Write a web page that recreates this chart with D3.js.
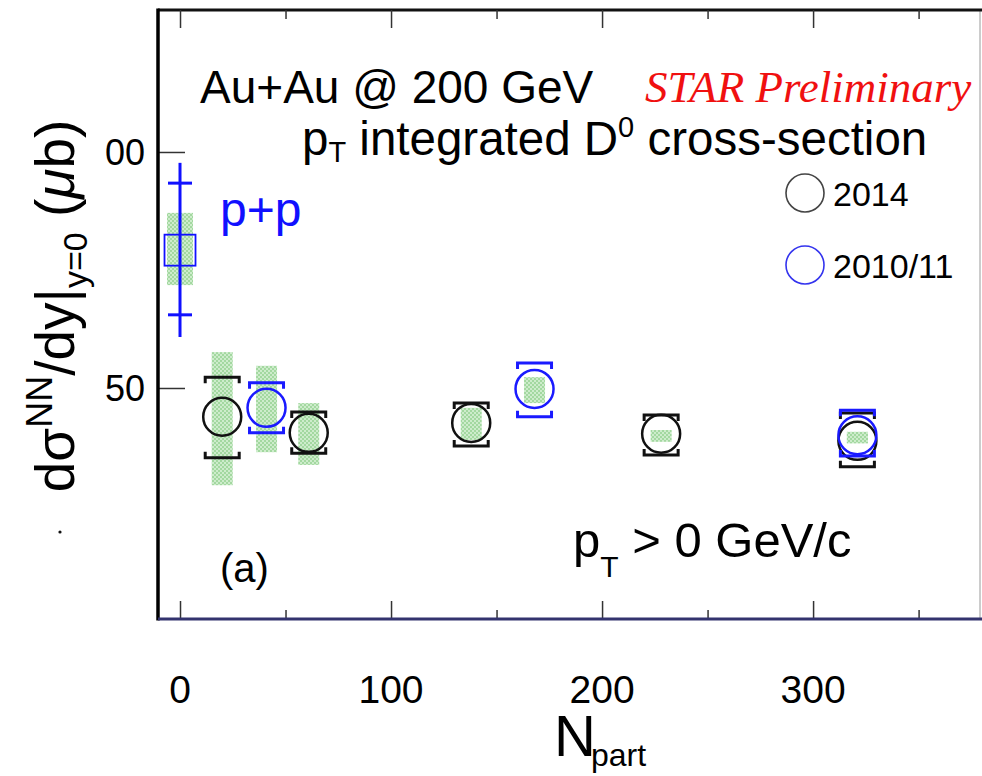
<!DOCTYPE html>
<html>
<head>
<meta charset="utf-8">
<script src="https://cdn.jsdelivr.net/npm/d3@7"></script>
<style>
body { margin: 0; background: #fff; }
text { font-family: "Liberation Sans", Arial, sans-serif; }
</style>
</head>
<body>
<div id="chart"></div>
<script>

// ---- data ----
var xTicks = [0, 100, 200, 300];
var xMinor = [50, 150, 250, 350];
var yTicks = [50, 100];

// p+p reference point
var ppNpart = 0, ppValue = 79.2;
var ppStat = [65.5, 93.4];     // caps
var ppTotal = [60.8, 97.7];    // line ends
var ppSys = [71.8, 87.1];      // green band

// Au+Au 2014 (black)
var npart2014 = [20, 61, 138, 228, 321];
var value2014 = [43.9, 40.5, 42.6, 40.3, 38.8];
var statLo2014 = [35.2, 36.2, 37.7, 35.8, 33.3];
var statHi2014 = [52.3, 44.9, 46.8, 44.3, 44.7];
var sysLo2014 = [29.4, 33.7, 39.0, 38.6, 38.3];
var sysHi2014 = [57.6, 46.8, 45.8, 41.1, 40.7];

// Au+Au 2010/11 (blue)
var npart1011 = [41, 168, 321];
var value1011 = [45.8, 49.8, 40.0];
var statLo1011 = [40.5, 43.9, 35.6];
var statHi1011 = [51.1, 55.3, 45.3];
var sysLo1011 = [36.4, 46.8, 38.3];
var sysHi1011 = [54.7, 52.3, 40.7];

var W = 982, H = 776;
var frame = { left: 158, right: 980, top: 10, bottom: 619 };

var svg = d3.select("#chart").append("svg").attr("width", W).attr("height", H);

var x = d3.scaleLinear().domain([-10.43, 379.1]).range([frame.left, frame.right]);
var y = d3.scaleLinear().domain([1.06, 130.08]).range([frame.bottom, frame.top]);

// hatched green pattern for systematics
var defs = svg.append("defs");
var pat = defs.append("pattern").attr("id", "sysPat").attr("patternUnits", "userSpaceOnUse")
    .attr("width", 4).attr("height", 4);
pat.append("rect").attr("width", 4).attr("height", 4).attr("fill", "#cdeccb");
pat.append("rect").attr("width", 2).attr("height", 2).attr("fill", "#a3d8a0");
pat.append("rect").attr("x", 2).attr("y", 2).attr("width", 2).attr("height", 2).attr("fill", "#a3d8a0");

defs.append("clipPath").attr("id", "labClip")
    .append("rect").attr("x", 105).attr("y", 0).attr("width", 60).attr("height", H);

// frame
svg.append("line").attr("x1", frame.right).attr("x2", frame.right).attr("y1", frame.top).attr("y2", frame.bottom)
    .attr("stroke", "#999").attr("stroke-width", 1);
svg.append("line").attr("x1", frame.left).attr("x2", W).attr("y1", frame.top).attr("y2", frame.top)
    .attr("stroke", "#111").attr("stroke-width", 3);

// axes via d3
var xAxisB = d3.axisTop(x).tickValues(xTicks).tickSize(18).tickFormat("");
var xAxisBm = d3.axisTop(x).tickValues(xMinor).tickSize(9).tickFormat("");
var xAxisT = d3.axisBottom(x).tickValues(xTicks).tickSize(18).tickFormat("");
var xAxisTm = d3.axisBottom(x).tickValues(xMinor).tickSize(9).tickFormat("");
var yAxis = d3.axisRight(y).tickValues(yTicks).tickSize(27).tickFormat("");

function styleAxis(g, col) {
    g.select(".domain").remove();
    g.selectAll(".tick line").attr("stroke", col || "#333").attr("stroke-width", 1.5);
}
svg.append("g").attr("transform", "translate(0," + frame.bottom + ")").call(xAxisB).call(styleAxis);
svg.append("g").attr("transform", "translate(0," + frame.bottom + ")").call(xAxisBm).call(styleAxis);
svg.append("g").attr("transform", "translate(0," + frame.top + ")").call(xAxisT).call(styleAxis);
svg.append("g").attr("transform", "translate(0," + frame.top + ")").call(xAxisTm).call(styleAxis);
svg.append("g").attr("transform", "translate(" + frame.left + ",0)").call(yAxis).call(styleAxis);

svg.append("line").attr("x1", frame.left).attr("x2", frame.left).attr("y1", frame.top - 1.5).attr("y2", frame.bottom + 1.5)
    .attr("stroke", "#000").attr("stroke-width", 3.5);
svg.append("line").attr("x1", frame.left).attr("x2", W).attr("y1", frame.bottom).attr("y2", frame.bottom)
    .attr("stroke", "#33336e").attr("stroke-width", 3);

// tick labels
svg.append("g").attr("clip-path", "url(#labClip)")
    .selectAll("text").data(yTicks).enter().append("text")
    .attr("x", 145).attr("y", function(d) { return y(d) + 13; })
    .attr("text-anchor", "end").attr("font-size", 36)
    .text(function(d) { return d; });

svg.selectAll("text.xlab").data(xTicks).enter().append("text")
    .attr("class", "xlab")
    .attr("x", function(d) { return x(d); }).attr("y", 703)
    .attr("text-anchor", "middle").attr("font-size", 39)
    .text(function(d) { return d; });

// axis titles
var xt = svg.append("text").attr("x", 554).attr("y", 756).attr("font-size", 58);
xt.append("tspan").text("N");
xt.append("tspan").attr("font-size", 32).attr("dy", 10).attr("dx", -5).text("part");

var yt = svg.append("text").attr("transform", "translate(74,306) rotate(-90)")
    .attr("text-anchor", "middle").attr("font-size", 55);
yt.append("tspan").text("d\u03c3");
yt.append("tspan").attr("font-size", 36).attr("dy", -22).text("NN");
yt.append("tspan").attr("dy", 22).text("/dy|");
yt.append("tspan").attr("font-size", 34).attr("dy", 13).text("y=0");
yt.append("tspan").attr("dy", -13).text(" (");
yt.append("tspan").attr("font-style", "italic").text("\u03bc");
yt.append("tspan").text("b)");

svg.append("circle").attr("cx", 60).attr("cy", 532).attr("r", 1.6).attr("fill", "#111");

// annotations
svg.append("text").attr("x", 200).attr("y", 103).attr("font-size", 46).text("Au+Au @ 200 GeV");
svg.append("text").attr("x", 645).attr("y", 102).attr("font-size", 45).attr("fill", "#f01010")
    .attr("font-style", "italic").style("font-family", "'Liberation Serif', 'Times New Roman', serif")
    .text("STAR Preliminary");
var sub = svg.append("text").attr("x", 302).attr("y", 155).attr("font-size", 47.5);
sub.append("tspan").text("p");
sub.append("tspan").attr("font-size", 29).attr("dy", 7).text("T");
sub.append("tspan").attr("dy", -7).text(" integrated D");
sub.append("tspan").attr("font-size", 29).attr("dy", -18).text("0");
sub.append("tspan").attr("dy", 18).text(" cross-section");

svg.append("text").attr("x", 220).attr("y", 226).attr("font-size", 48).attr("fill", "#1010ff").text("p+p");
svg.append("text").attr("x", 220).attr("y", 582).attr("font-size", 40).text("(a)");
var pt = svg.append("text").attr("x", 573).attr("y", 557).attr("font-size", 49);
pt.append("tspan").text("p");
pt.append("tspan").attr("font-size", 30).attr("dy", 20).text("T");
pt.append("tspan").attr("dy", -20).text(" > 0 GeV/c");

// legend
var legend = [{ label: "2014", col: "#444" }, { label: "2010/11", col: "#3333ee" }];
var lg = svg.selectAll("g.leg").data(legend).enter().append("g").attr("class", "leg")
    .attr("transform", function(d, i) { return "translate(805," + (193 + i * 72) + ")"; });
lg.append("circle").attr("r", 19).attr("fill", "none").attr("stroke", function(d) { return d.col; }).attr("stroke-width", 1.6);
lg.append("text").attr("x", 28).attr("y", 13).attr("font-size", 34).text(function(d) { return d.label; });

// ---- data marks ----
var plot = svg.append("g");

function sysBands(npart, lo, hi, w) {
    plot.append("g").selectAll("rect").data(npart).enter().append("rect")
        .attr("x", function(d) { return x(d) - w / 2; })
        .attr("y", function(d, i) { return y(hi[i]); })
        .attr("width", w)
        .attr("height", function(d, i) { return y(lo[i]) - y(hi[i]); })
        .attr("fill", "url(#sysPat)");
}

function caps(npart, lo, hi, col) {
    var hw = 17, hook = 6;
    var g = plot.append("g").attr("fill", "none").attr("stroke", col).attr("stroke-width", 3);
    g.selectAll("path.top").data(npart).enter().append("path")
        .attr("d", function(d, i) {
            var cx = x(d), yy = y(hi[i]);
            return "M" + (cx - hw) + "," + (yy + hook) + "V" + yy + "H" + (cx + hw) + "V" + (yy + hook);
        });
    g.selectAll("path.bot").data(npart).enter().append("path")
        .attr("d", function(d, i) {
            var cx = x(d), yy = y(lo[i]);
            return "M" + (cx - hw) + "," + (yy - hook) + "V" + yy + "H" + (cx + hw) + "V" + (yy - hook);
        });
}

function circles(npart, vals, col) {
    plot.append("g").selectAll("circle").data(npart).enter().append("circle")
        .attr("cx", function(d) { return x(d); })
        .attr("cy", function(d, i) { return y(vals[i]); })
        .attr("r", 19).attr("fill", "none").attr("stroke", col).attr("stroke-width", 2.5);
}

sysBands(npart2014, sysLo2014, sysHi2014, 21);
sysBands(npart1011, sysLo1011, sysHi1011, 21);
sysBands([ppNpart], [ppSys[0]], [ppSys[1]], 26);

caps(npart2014, statLo2014, statHi2014, "#111");
circles(npart2014, value2014, "#111");
caps(npart1011, statLo1011, statHi1011, "#1a1aff");
circles(npart1011, value1011, "#1a1aff");

// p+p
var ppg = plot.append("g").attr("stroke", "#1010ff").attr("fill", "none");
ppg.append("line").attr("x1", x(ppNpart)).attr("x2", x(ppNpart))
    .attr("y1", y(ppTotal[1])).attr("y2", y(ppTotal[0])).attr("stroke-width", 3);
ppg.selectAll("line.cap").data(ppStat).enter().append("line").attr("class", "cap")
    .attr("x1", x(ppNpart) - 12).attr("x2", x(ppNpart) + 12)
    .attr("y1", function(d) { return y(d); }).attr("y2", function(d) { return y(d); })
    .attr("stroke-width", 3);
ppg.append("rect").attr("x", x(ppNpart) - 15.5).attr("y", y(ppValue) - 15.5)
    .attr("width", 31).attr("height", 31).attr("stroke-width", 1.8);

</script>
</body>
</html>
